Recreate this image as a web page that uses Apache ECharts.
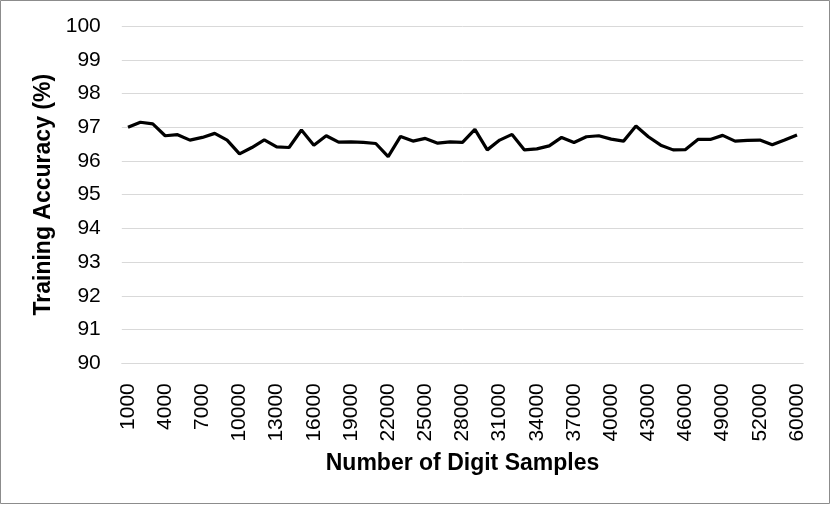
<!DOCTYPE html>
<html>
<head>
<meta charset="utf-8">
<script src="https://cdn.jsdelivr.net/npm/echarts@6/dist/echarts.min.js"></script>
<style>
html,body{margin:0;padding:0;background:#fff;}
#chart{width:831px;height:506px;}
</style>
</head>
<body>
<div id="chart"></div>
<script>
var categories = [
  '1000','2000','3000','4000','5000','6000','7000','8000','9000','10000',
  '11000','12000','13000','14000','15000','16000','17000','18000','19000','20000',
  '21000','22000','23000','24000','25000','26000','27000','28000','29000','30000',
  '31000','32000','33000','34000','35000','36000','37000','38000','39000','40000',
  '41000','42000','43000','44000','45000','46000','47000','48000','49000','50000',
  '51000','52000','53000','54000','60000'
];
var accuracy = [
  97.00, 97.15, 97.10, 96.75, 96.78, 96.62, 96.70, 96.82, 96.62, 96.21,
  96.40, 96.63, 96.42, 96.40, 96.92, 96.47, 96.75, 96.56, 96.57, 96.55,
  96.52, 96.13, 96.73, 96.59, 96.67, 96.53, 96.57, 96.55, 96.94, 96.33,
  96.62, 96.79, 96.33, 96.36, 96.45, 96.70, 96.55, 96.72, 96.75, 96.65,
  96.59, 97.04, 96.72, 96.47, 96.33, 96.34, 96.64, 96.64, 96.76, 96.59,
  96.61, 96.62, 96.48, 96.62, 96.77
];
var yTicks = { min: 90, max: 100, interval: 1 };

var chart = echarts.init(document.getElementById('chart'), null, {renderer: 'canvas'});
chart.setOption({
  animation: false,
  backgroundColor: '#ffffff',
  grid: { left: 121.8, right: 27.8, top: 26.2, bottom: 142.8, containLabel: false },
  graphic: [{
    type: 'rect',
    shape: { x: 0.5, y: 0.5, width: 829, height: 503 },
    style: { fill: 'none', stroke: '#8c8c8c', lineWidth: 1 },
    silent: true
  }],
  xAxis: {
    type: 'category',
    data: categories,
    boundaryGap: true,
    name: 'Number of Digit Samples',
    nameLocation: 'middle',
    nameGap: 89,
    nameTextStyle: { fontFamily: 'Liberation Sans, Arial, sans-serif', fontSize: 23, fontWeight: 'bold', color: '#000' },
    axisLine: { show: true, lineStyle: { color: '#d9d9d9', width: 1 } },
    axisTick: { show: false },
    axisLabel: {
      interval: 2, rotate: 90, margin: 20,
      fontFamily: 'Liberation Sans, Arial, sans-serif', fontSize: 21, color: '#000'
    },
    splitLine: { show: false }
  },
  yAxis: {
    type: 'value',
    min: yTicks.min, max: yTicks.max, interval: yTicks.interval,
    name: 'Training Accuracy (%)',
    nameLocation: 'middle',
    nameGap: 62,
    nameTextStyle: { fontFamily: 'Liberation Sans, Arial, sans-serif', fontSize: 23, fontWeight: 'bold', color: '#000' },
    axisLine: { show: false },
    axisTick: { show: false },
    axisLabel: { margin: 21, fontFamily: 'Liberation Sans, Arial, sans-serif', fontSize: 21, color: '#000' },
    splitLine: { show: true, lineStyle: { color: '#d9d9d9', width: 1 } }
  },
  series: [{
    type: 'line',
    data: accuracy,
    showSymbol: false,
    symbol: 'none',
    smooth: false,
    lineStyle: { color: '#000', width: 3.2 }
  }]
});
</script>
</body>
</html>
